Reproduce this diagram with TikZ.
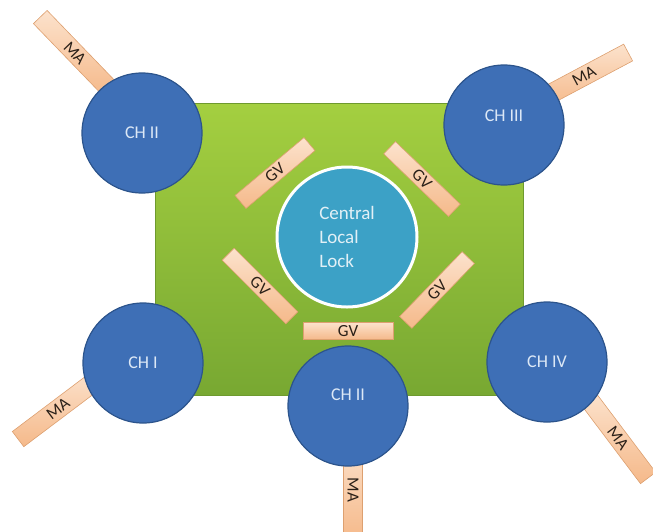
\documentclass[tikz,border=0pt]{standalone}
\usepackage{fontspec}
\setmainfont{Carlito}
\definecolor{boardtop}{HTML}{A4CF40}
\definecolor{boardbot}{HTML}{78A832}
\definecolor{boardline}{HTML}{6E9A2E}
\definecolor{chblue}{HTML}{3E6FB6}
\definecolor{chline}{HTML}{2C548C}
\definecolor{chtext}{HTML}{DCE8F6}
\definecolor{lockfill}{HTML}{3CA1C6}
\definecolor{locktext}{HTML}{E2F0F6}
\definecolor{barlight}{HTML}{FCE2CC}
\definecolor{bardark}{HTML}{F5B98A}
\definecolor{barline}{HTML}{DDA070}
\definecolor{bartext}{HTML}{2A2018}
\begin{document}
\begin{tikzpicture}[x=1pt,y=-1pt,
  board/.style={rectangle, draw=boardline, line width=0.8pt, top color=boardtop, bottom color=boardbot, minimum width=368, minimum height=292, inner sep=0pt},
  chan/.style={circle, fill=chblue, draw=chline, line width=1.2pt, minimum size=120, inner sep=0pt, text=chtext, font=\fontsize{18}{18}\selectfont},
  lock/.style={circle, fill=lockfill, draw=white, line width=3pt, minimum size=140, inner sep=0pt, text=locktext, align=left, font=\fontsize{19}{24}\selectfont},
  gvbar/.style={rectangle, draw=barline, line width=0.6pt, top color=barlight, bottom color=bardark, minimum width=90, minimum height=17, inner sep=0pt, text=bartext, font=\fontsize{17}{17}\selectfont},
  mabar/.style={gvbar, minimum width=100, minimum height=19}]
\useasboundingbox (0,0) rectangle (653,531);
\clip (0,0) rectangle (653,531);

% green base plate
\node[board] (plate) at (339,249) {};

% MA arms, drawn first so the channels cover their inner ends
\node[mabar, rotate=-46] (ma1) at (75,53) {MA};
\node[mabar, rotate=28]  (ma2) at (584,76) {MA};
\node[mabar, rotate=37]  (ma3) at (58,409) {MA};
\node[mabar, rotate=-90] (ma4) at (353,490) {MA};
\node[mabar, rotate=-53] (ma5) at (618,438) {MA};

% channels
\node[chan] (ch2a) at (142,133) {CH II};
\node[chan, text depth=18pt] (ch3) at (504,125) {CH III};
\node[chan] (ch1) at (143,363) {CH I};
\node[chan, text depth=22pt] (ch2b) at (348,406) {CH II};
\node[chan] (ch4) at (547,362) {CH IV};

% GV valves around the central lock
\node[gvbar, rotate=40]  (gv1) at (275,173) {GV};
\node[gvbar, rotate=-44] (gv2) at (422,179) {GV};
\node[gvbar, rotate=-45] (gv3) at (260,286) {GV};
\node[gvbar, rotate=46]  (gv4) at (437,290) {GV};
\node[gvbar]             (gv5) at (348,331) {GV};

% central local lock
\node[lock] (cll) at (347,237) {Central\\Local\\Lock};
\end{tikzpicture}
\end{document}
